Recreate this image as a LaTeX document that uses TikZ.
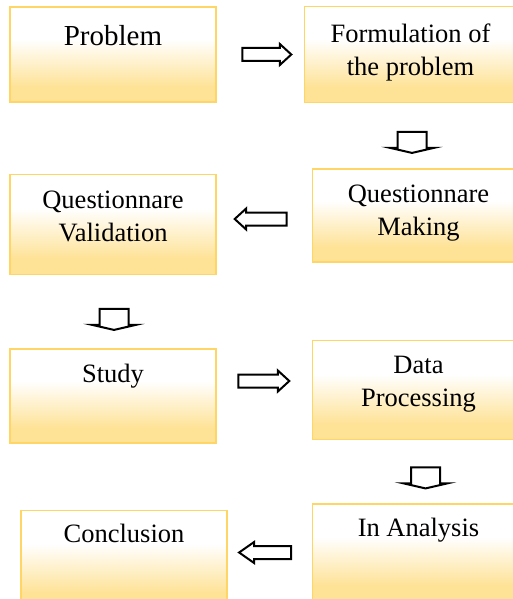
\documentclass[tikz,border=0pt]{standalone}
\usepackage{fontspec}
\setmainfont{Liberation Serif}
\usetikzlibrary{positioning,calc,shapes.arrows}
\definecolor{stepedge}{RGB}{255,214,102}
\definecolor{stepfill}{RGB}{254,226,150}
\pgfdeclareverticalshading{stepshade}{100bp}{color(0bp)=(stepfill); color(33bp)=(stepfill); color(58bp)=(white); color(100bp)=(white)}

\begin{document}
\begin{tikzpicture}[
        x=1pt, y=-1pt,
        stepbox/.style={draw=stepedge, line width=1.5pt, shade, shading=stepshade, minimum width=206pt, inner sep=0pt},
        wide/.style={minimum width=212pt},
        steptext/.style={inner sep=0pt, align=center, font=\fontsize{26.5}{33}\selectfont},
        rarrow/.style={single arrow, draw=black, fill=white, line width=2pt, inner xsep=0pt, inner ysep=5.5pt, minimum height=49pt, minimum width=20pt, single arrow head extend=4pt, single arrow tip angle=85},
        larrow/.style={rarrow, rotate=180},
        darrow/.style={single arrow, draw=black, fill=white, line width=2pt, inner xsep=0pt, inner ysep=13.5pt, minimum height=21pt, single arrow head extend=7.5pt, single arrow tip angle=154, rotate=-90}
    ]
        \useasboundingbox (0,0) rectangle (513,599);
        % boxes
        \node[stepbox, minimum height=95pt] (prob) at (113,54.5) {};
        \node[stepbox, wide, minimum height=96pt, right=87pt of prob] (form) {};
        \node[stepbox, minimum height=100pt, below=71pt of prob] (valid) {};
        \node[stepbox, wide, minimum height=93pt, below=65pt of form, xshift=8pt] (make) {};
        \node[stepbox, minimum height=94pt, below=73pt of valid] (study) {};
        \node[stepbox, wide, minimum height=99pt, below=77pt of make] (data) {};
        \node[stepbox, minimum height=98pt, below=66pt of study, xshift=11pt] (concl) {};
        \node[stepbox, wide, minimum height=97pt, below=63pt of data] (anal) {};
        % texts
        \node[steptext, font=\fontsize{29}{33}\selectfont, below=18.5pt of prob.north] (prob text) {Problem};
        \node[steptext, below=18pt of form.north] (form text) {Formulation of\\the problem};
        \node[steptext, below=17pt of valid.north] (valid text) {Questionnare\\Validation};
        \node[steptext, below=17pt of make.north] (make text) {Questionnare\\Making};
        \node[steptext, below=16pt of study.north] (study text) {Study};
        \node[steptext, below=16pt of data.north] (data text) {Data\\Processing};
        \node[steptext, below=14pt of concl.north] (concl text) {Conclusion};
        \node[steptext, below=15pt of anal.north] (anal text) {In Analysis};
        % arrows
        \node[rarrow] (a1) at ($(prob.east)!0.5!(form.west)+(3,0)$) {};
        \node[darrow] (a2) at ($(form.south)!0.5!(make.north)+(-2.5,5)$) {};
        \node[larrow, minimum height=52pt] (a3) at ($(valid.east)!0.5!(make.west)+(0,-1)$) {};
        \node[darrow] (a4) at ($(valid.south)!0.5!(study.north)+(1,6)$) {};
        \node[rarrow, minimum height=51pt] (a5) at ($(study.east)!0.5!(data.west)+(-4,-12)$) {};
        \node[darrow] (a6) at ($(data.south)!0.5!(anal.north)+(7,4.5)$) {};
        \node[larrow, minimum height=52pt, single arrow tip angle=70] (a7) at ($(concl.east)!0.5!(anal.west)+(0,-3.5)$) {};
    \end{tikzpicture}
\end{document}
